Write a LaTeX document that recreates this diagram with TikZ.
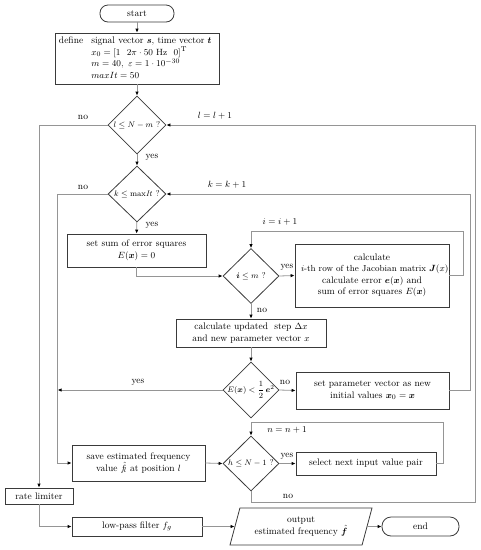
\documentclass[tikz,border=0pt]{standalone}
\usepackage{amsmath,bm}
\usetikzlibrary{shapes.geometric,arrows.meta}
\definecolor{linegray}{HTML}{959595}
\definecolor{boxgray}{HTML}{3A3A3A}
\begin{document}
\begin{tikzpicture}[x=1pt,y=-1pt,
  font=\fontsize{9.5}{11.5}\selectfont,
  box/.style={draw=boxgray, line width=0.8pt, rectangle, inner sep=2pt, align=center},
  term/.style={box, rounded corners=8pt},
  dec/.style={draw=boxgray, line width=0.8pt, diamond, inner sep=0pt, font=\fontsize{8.5}{10}\selectfont},
  conn/.style={draw=linegray, line width=0.8pt},
  arr/.style={conn, -{Latex[length=4pt,width=3.5pt,color=black]}},
  lbl/.style={inner sep=1pt}
]
\useasboundingbox (0,0) rectangle (481,550);

% nodes
\node[term, minimum width=74pt, minimum height=17pt] (start) at (137,13.5) {start};
\node[box, minimum width=164pt, minimum height=49pt, text width=156pt, align=left] (def) at (137,58.5)
 {\begin{tabular}{@{}l@{\hspace{8pt}}l@{}}define & signal vector $\bm s$, time vector $\bm t$\\
  & $x_0=[1\ \ 2\pi\cdot 50\ \mathrm{Hz}\ \ 0]^{\mathrm T}$\\
  & $m=40,\ \varepsilon = 1\cdot 10^{-30}$\\
  & $maxIt = 50$\end{tabular}};
\node[dec, minimum width=58pt, minimum height=58pt] (d1) at (137,125) {\makebox[0pt]{$l \le N-m$ ?}};
\node[dec, minimum width=58pt, minimum height=56pt] (d2) at (137,194) {\makebox[0pt]{$k \le \mathrm{max}\mathit{It}$ ?}};
\node[box, minimum width=139pt, minimum height=33pt] (sum) at (136.5,250.5) {set sum of error squares\\ $E(\bm x)=0$};
\node[dec, minimum width=56pt, minimum height=55pt] (di) at (251,276) {\makebox[0pt]{$\bm i \le m$ ?}};
\node[box, minimum width=154pt, minimum height=63pt] (calc) at (372,275.5)
 {calculate\\ \makebox[146pt][l]{\hspace{2pt}\fontsize{8.8}{11.5}\selectfont$i$-th row of the Jacobian matrix $\bm J(x)$,}\\ calculate error $\bm e(\bm x)$ and\\ sum of error squares $E(\bm x)$};
\node[box, minimum width=150pt, minimum height=28pt] (upd) at (251,333) {calculate updated\ \ step $\Delta x$\\ and new parameter vector $x$};
\node[dec, minimum width=56pt, minimum height=56pt] (dE) at (251,390) {\makebox[0pt]{$E(\bm x) < \dfrac{1}{2}\,\bm e^2$}};
\node[box, minimum width=153pt, minimum height=37pt] (setp) at (372.5,390.5) {set parameter vector as new\\ initial values $\bm x_0=\bm x$};
\node[dec, minimum width=56pt, minimum height=55pt] (dn) at (251,463.5) {\makebox[0pt]{$h \le N-1$ ?}};
\node[box, minimum width=140pt, minimum height=23pt] (sel) at (366,463.5) {select next\ input\ value pair};
\node[box, minimum width=133pt, minimum height=36pt] (save) at (138.5,463) {save estimated frequency\\ value $\hat{f}_{\!l}$ at position $l$};
\node[box, minimum width=68pt, minimum height=16pt] (rate) at (39,496) {rate limiter};
\node[box, minimum width=130pt, minimum height=19pt] (low) at (137,526.5) {low-pass filter $f_g$};
\node[draw=boxgray, line width=0.8pt, trapezium, trapezium left angle=65, trapezium right angle=115,
  trapezium stretches body, minimum width=142pt, minimum height=37pt, inner sep=1pt, align=center]
  (out) at (301,526.5) {output\\ estimated frequency\ $\hat{\bm f}$};
\node[term, minimum width=77pt, minimum height=19pt, rounded corners=9pt] (end) at (420.5,526.5) {end};

% labels
\node[lbl] (nl1) at (83,117) {no};
\node[lbl] (nl2) at (83,187) {no};
\node[lbl] (yl1) at (152,157) {yes};
\node[lbl] (yl2) at (152,225) {yes};
\node[lbl] (ll) at (215,116) {$l=l+1$};
\node[lbl] (kl) at (227,185) {$k=k+1$};
\node[lbl] (il) at (280,222) {$i=i+1$};
\node[lbl] (yl3) at (287,267) {yes};
\node[lbl] (nl3) at (262,310) {no};
\node[lbl] (yl4) at (138,382) {yes};
\node[lbl] (nl4) at (285,382) {no};
\node[lbl] (nn) at (287,430) {$n=n+1$};
\node[lbl] (yl5) at (287,456) {yes};
\node[lbl] (nl5) at (288,496) {no};

% connectors
\draw[arr] (start) -- (def);
\draw[arr] (def) -- (d1);
\draw[arr] (d1) -- (d2);
\draw[arr] (d2) -- (sum);
\draw[arr] (d1.west) -| (rate.north);
\draw[arr] (d2.west) -| ([xshift=-14pt]save.west) -- (save.west);
\draw[arr] (dE.west) -- ([xshift=-14pt]save.west |- dE.west);
\draw[arr] (dn.south) -- ++(0,11) -| ([xshift=26pt]calc.east |- d1.east) -- (d1.east);
\draw[arr] (setp.east) -- ++(21,0) |- (d2.east);
\draw[arr] (sum.south) |- (di.west);
\draw[arr] (di.east) -- (calc.west);
\draw[arr] (calc.east) -- ++(14,0) |- ([yshift=17pt]di.north) -- (di.north);
\draw[arr] (di.south) -- (upd.north);
\draw[arr] (upd.south) -- (dE.north);
\draw[arr] (dE.east) -- (setp.west);
\draw[arr] (save.east) -- (dn.west);
\draw[arr] (dn.east) -- (sel.west);
\draw[arr] (sel.east) -- ++(7,0) |- ([yshift=13pt]dn.north) -- (dn.north);
\draw[arr] (rate.south) |- (low.west);
\draw[arr] (low.east) -- (out.west);
\draw[arr] (out.east) -- (end.west);
\end{tikzpicture}
\end{document}
